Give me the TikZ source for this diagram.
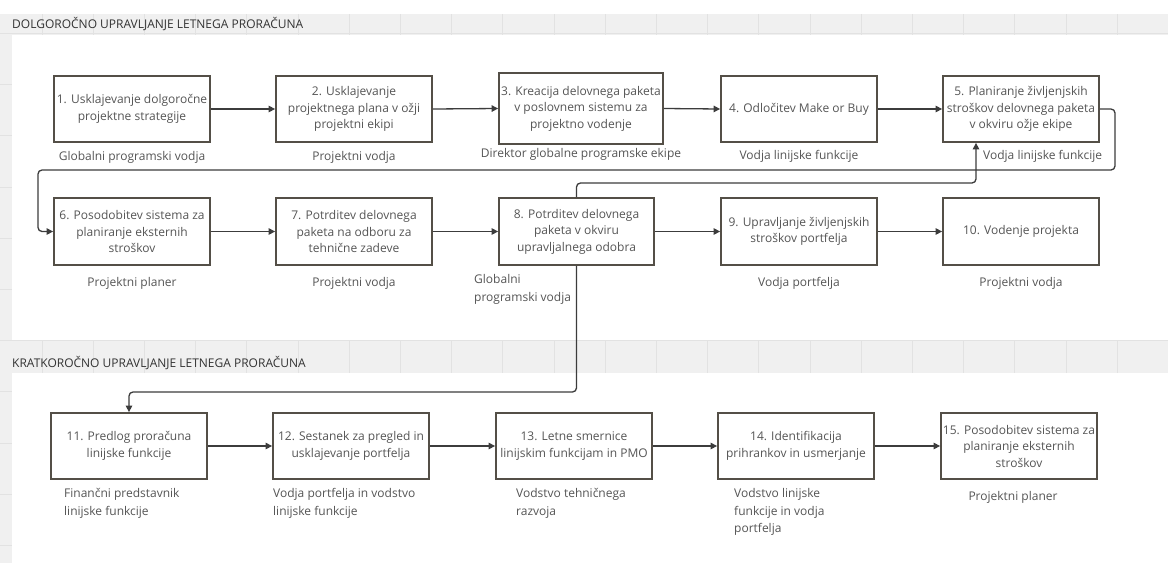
\documentclass[tikz,border=0pt]{standalone}
\usepackage{fontspec}
\setmainfont{Open Sans}
\usetikzlibrary{arrows.meta}

\definecolor{canvas}{RGB}{240,240,240}
\definecolor{gridc}{RGB}{226,226,226}
\definecolor{boxc}{RGB}{84,79,71}
\definecolor{linec}{RGB}{60,60,60}
\definecolor{txtc}{RGB}{85,85,85}
\definecolor{headc}{RGB}{51,51,51}

\tikzset{
  stepbox/.style={draw=boxc, line width=1.8pt, fill=white, minimum width=156pt,
    minimum height=66pt, inner sep=0pt, align=center, text=txtc,
    font=\fontsize{12}{16.5}\selectfont},
  role/.style={inner sep=0pt, text=txtc, font=\fontsize{12}{17.5}\selectfont},
  lanehead/.style={inner sep=0pt, anchor=west, text=headc, font=\fontsize{12}{14}\selectfont},
  conn/.style={draw=linec, line width=1.3pt, rounded corners=4pt,
    -{Triangle[length=6.5pt,width=6.5pt]}},
}

\begin{document}
\begin{tikzpicture}[x=1pt,y=-1pt]
  \useasboundingbox (0,0) rectangle (1168,563);
  % canvas with grid
  \fill[white] (0,0) rectangle (1168,563);
  \fill[canvas] (0,14) rectangle (1168,563);
  \foreach \k in {0,...,22}
    \draw[gridc, line width=1pt] ({42+51.2*\k},14) -- ({42+51.2*\k},563);
  \foreach \k in {0,...,10}
    \draw[gridc, line width=1pt] (0,{33.4+51.2*\k}) -- (1168,{33.4+51.2*\k});

  % swimlanes
  \fill[white] (11.5,34.5) rectangle (1168,340);
  \fill[white] (11.5,373) rectangle (1168,563);
  \node[lanehead] (h1) at (12,24) {DOLGOROČNO UPRAVLJANJE LETNEGA PRORAČUNA};
  \node[lanehead] (h2) at (12,363) {KRATKOROČNO UPRAVLJANJE LETNEGA PRORAČUNA};

  % first row
  \node[stepbox] (b1) at (132,109) {1. Usklajevanje dolgoročne\\projektne strategije};
  \node[stepbox] (b2) at (354,109) {2. Usklajevanje\\projektnega plana v ožji\\projektni ekipi};
  \node[stepbox, minimum width=164pt, minimum height=71pt] (b3) at (581,108.5)
    {3. Kreacija delovnega paketa\\v poslovnem sistemu za\\projektno vodenje};
  \node[stepbox] (b4) at (799,109) {4. Odločitev Make or Buy};
  \node[stepbox] (b5) at (1021,109) {5. Planiranje življenjskih\\stroškov delovnega paketa\\v okviru ožje ekipe};

  \node[role] (r1) at (132,157) {Globalni programski vodja};
  \node[role] (r2) at (354,157) {Projektni vodja};
  \node[role] (r3) at (581,154) {Direktor globalne programske ekipe};
  \node[role] (r4) at (799,156) {Vodja linijske funkcije};
  \node[role, anchor=west] (r5) at (983,156) {Vodja linijske funkcije};

  % second row
  \node[stepbox, minimum height=67pt] (b6) at (132,231.5) {6. Posodobitev sistema za\\planiranje eksternih\\stroškov};
  \node[stepbox, minimum height=67pt] (b7) at (354,231.5) {7. Potrditev delovnega\\paketa na odboru za\\tehnične zadeve};
  \node[stepbox, minimum height=67pt, minimum width=155pt] (b8) at (576.5,231.5) {8. Potrditev delovnega\\paketa v okviru\\upravljalnega odobra};
  \node[stepbox, minimum height=67pt] (b9) at (799,231.5) {9. Upravljanje življenjskih\\stroškov portfelja};
  \node[stepbox, minimum height=67pt] (b10) at (1021,231.5) {10. Vodenje projekta};

  \node[role] (r6) at (132,283) {Projektni planer};
  \node[role] (r7) at (354,283) {Projektni vodja};
  \node[role, align=left, anchor=north west] (r8) at (474,274.5) {Globalni\\programski vodja};
  \node[role] (r9) at (799,283) {Vodja portfelja};
  \node[role] (r10) at (1021,283) {Projektni vodja};

  % third row
  \node[stepbox] (b11) at (129,446) {11. Predlog proračuna\\linijske funkcije};
  \node[stepbox] (b12) at (351,446) {12. Sestanek za pregled in\\usklajevanje portfelja};
  \node[stepbox] (b13) at (574,446) {13. Letne smernice\\linijskim funkcijam in PMO};
  \node[stepbox] (b14) at (796,446) {14. Identifikacija\\prihrankov in usmerjanje};
  \node[stepbox] (b15) at (1019,446) {15. Posodobitev sistema za\\planiranje eksternih\\stroškov};

  \node[role, align=left, anchor=north west] (r11) at (64,488.5) {Finančni predstavnik\\linijske funkcije};
  \node[role, align=left, anchor=north west] (r12) at (273,488.5) {Vodja portfelja in vodstvo\\linijske funkcije};
  \node[role, align=left, anchor=north west] (r13) at (516,488.5) {Vodstvo tehničnega\\razvoja};
  \node[role, align=left, anchor=north west] (r14) at (734,488.5) {Vodstvo linijske\\funkcije in vodja\\portfelja};
  \node[role] (r15) at (1013,497) {Projektni planer};

  % bend points of the connectors between rows
  \coordinate (r56) at (1115,170);
  \coordinate (l56) at (38,170);
  \coordinate (k85) at (976,183);
  \coordinate (k811) at (129,392);

  % connectors
  \draw[conn] (b1.east) -- (b2.west);
  \draw[conn] (b2.east) -- (b3.west);
  \draw[conn] (b3.east) -- (b4.west);
  \draw[conn] (b4.east) -- (b5.west);
  \draw[conn] (b5.east) -- (b5.east -| r56) -- (r56) -- (l56) -- (l56 |- b6.west) -- (b6.west);
  \draw[conn] (b6.east) -- (b7.west);
  \draw[conn] (b7.east) -- (b8.west);
  \draw[conn] (b8.east) -- (b9.west);
  \draw[conn] (b9.east) -- (b10.west);
  \draw[conn] (b8.north) |- (k85) -- (k85 |- b5.south);
  \draw[conn] (b8.south) |- (k811) -- (b11.north);
  \draw[conn] (b11.east) -- (b12.west);
  \draw[conn] (b12.east) -- (b13.west);
  \draw[conn] (b13.east) -- (b14.west);
  \draw[conn] (b14.east) -- (b15.west);
\end{tikzpicture}
\end{document}
